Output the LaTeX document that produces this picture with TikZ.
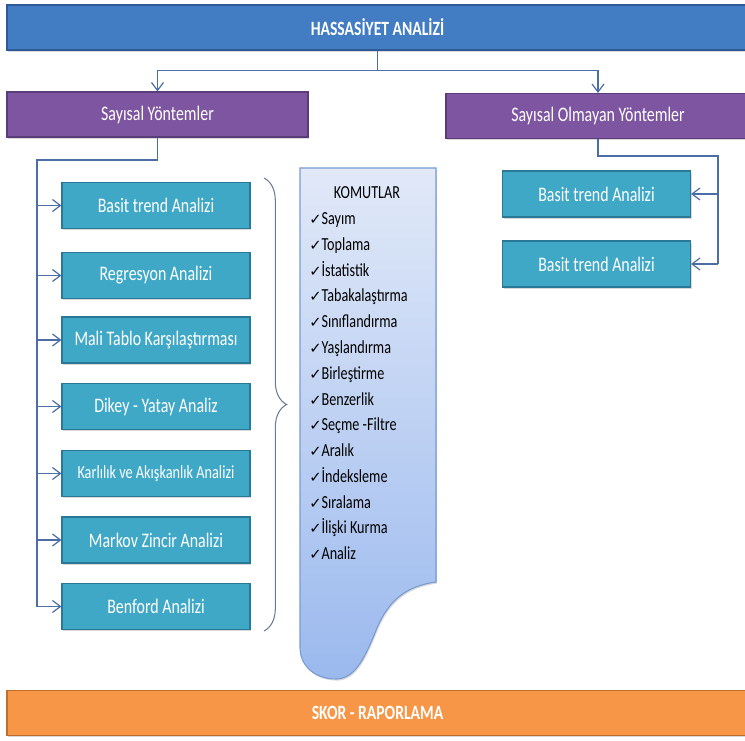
\documentclass[tikz,border=0pt]{standalone}
\usepackage{fontspec}
\setmainfont{Carlito}[FakeStretch=0.77]
\newfontfamily\symfont{DejaVu Sans}
\usepackage{xcolor}
\usetikzlibrary{
    positioning,
    arrows.meta,
    calc,
    shadows,
    decorations.pathreplacing
}
\definecolor{barBlue}{RGB}{66, 125, 195}
\definecolor{barBlueDark}{RGB}{45, 90, 150}
\definecolor{groupPurple}{RGB}{125, 85, 160}
\definecolor{groupPurpleDark}{RGB}{90, 60, 120}
\definecolor{methodTeal}{RGB}{64, 168, 199}
\definecolor{methodTealDark}{RGB}{40, 120, 150}
\definecolor{scoreOrange}{RGB}{247, 150, 70}
\definecolor{scoreOrangeDark}{RGB}{190, 110, 45}
\definecolor{linkBlue}{RGB}{74, 110, 165}
\definecolor{docTop}{RGB}{225, 233, 248}
\definecolor{docBottom}{RGB}{155, 185, 238}
\definecolor{docEdge}{RGB}{120, 155, 210}
\definecolor{braceGray}{RGB}{110, 125, 150}

\tikzset{
    box/.style={rectangle, draw, line width=0.8pt, text=white,
        minimum height=33.75pt, inner sep=2pt,
        font=\fontsize{15.5}{17}\selectfont,
        drop shadow={shadow xshift=0.8pt, shadow yshift=-1.2pt, opacity=0.3}},
    titlebar/.style={box, fill=barBlue, draw=barBlueDark, minimum width=555.75pt,
        font=\fontsize{15.2}{17}\selectfont\bfseries},
    scorebar/.style={titlebar, fill=scoreOrange, draw=scoreOrangeDark},
    groupbox/.style={box, fill=groupPurple, draw=groupPurpleDark},
    methodbox/.style={box, fill=methodTeal, draw=methodTealDark,
        minimum width=141pt, minimum height=34.5pt},
    link/.style={draw=linkBlue, line width=0.9pt},
    cmditem/.style={anchor=west, inner sep=0pt, text height=1.6ex, text depth=0.45ex,
        font=\fontsize{13.8}{15}\selectfont}
}

\begin{document}
\begin{tikzpicture}[x=0.75pt, y=-0.75pt, >={Straight Barb[length=6pt, width=9pt]}]
    \useasboundingbox (0,0) rectangle (745,741);

    % başlık ve gruplar
    \node[titlebar] (hassas) at (377.5,27.5) {HASSASİYET ANALİZİ};
    \node[groupbox, minimum width=225.75pt] (sayisal) at (157.5,114.5) {Sayısal Yöntemler};
    \node[groupbox, minimum width=228pt] (olmayan) at (598,116) {Sayısal Olmayan Yöntemler};

    \coordinate (split) at ($(hassas.south)+(0,20)$);
    \draw[link] (hassas.south) -- (split);
    \draw[link, ->] (split) -| (sayisal.north);
    \draw[link, ->] (split) -| (olmayan.north);

    % sayısal yöntemler
    \foreach \ypos/\txt [count=\i] in {
        205.5/Basit trend Analizi,
        275.5/Regresyon Analizi,
        340/Mali Tablo Karşılaştırması,
        406.5/Dikey - Yatay Analiz,
        473.5/{\fontsize{13.9}{15}\selectfont Karlılık ve Akışkanlık Analizi},
        540/Markov Zincir Analizi,
        606.5/Benford Analizi}
        \node[methodbox] (m\i) at (156,\ypos) {\txt};

    \coordinate (lbus) at (37,160);
    \draw[link] (sayisal.south) |- (lbus) -- (lbus |- m7.west);
    \foreach \i in {1,...,7}
        \draw[link, ->] (lbus |- m\i.west) -- (m\i.west);

    % sayısal olmayan yöntemler
    \node[methodbox] (n1) at (596.5,194) {Basit trend Analizi};
    \node[methodbox] (n2) at (596.5,264) {Basit trend Analizi};

    \coordinate (rbus) at (718,156);
    \draw[link] (olmayan.south) |- (rbus) -- (rbus |- n2.east);
    \foreach \i in {1,2}
        \draw[link, ->] (rbus |- n\i.east) -- (n\i.east);

    % parantez
    \draw[braceGray, line width=0.8pt, decorate, decoration={brace, amplitude=17pt}]
        (264,178) -- (264,631);

    % komutlar
    \draw[docEdge, line width=0.8pt, top color=docTop, bottom color=docBottom,
        drop shadow={shadow xshift=0.8pt, shadow yshift=-1.2pt, opacity=0.3}]
        (300,168) -- (436,168) -- (436,582)
        .. controls (405,586) and (388,602) .. (377,628)
        .. controls (366,655) and (356,679) .. (336,679)
        .. controls (313,679) and (300,664) .. (300,648) -- cycle;

    \node[cmditem, anchor=center] (komut) at (367,195) {KOMUTLAR};
    \foreach \txt [count=\i] in {Sayım, Toplama, İstatistik, Tabakalaştırma,
        Sınıflandırma, Yaşlandırma, Birleştirme, Benzerlik, Seçme -Filtre,
        Aralık, İndeksleme, Sıralama, İlişki Kurma, Analiz}
        \node[cmditem] (c\i) at (309,{221+25.77*(\i-1)})
            {{\symfont\fontsize{11}{11}\selectfont ✓}\txt};

    % skor
    \node[scorebar] (skor) at (377.5,713) {SKOR - RAPORLAMA};
\end{tikzpicture}
\end{document}
